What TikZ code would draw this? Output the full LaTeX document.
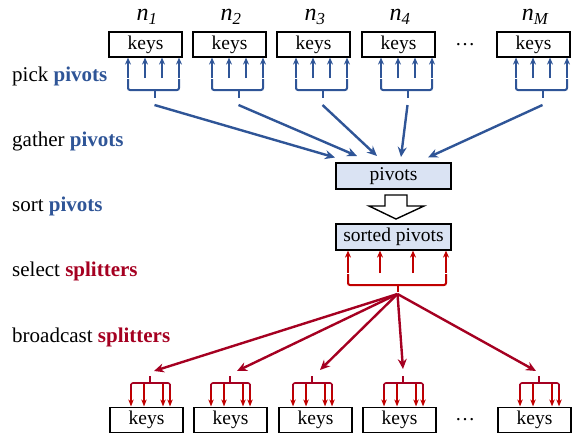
\documentclass[tikz,border=0pt]{standalone}
\usepackage{fontspec}
\setmainfont{Liberation Serif}
\usetikzlibrary{arrows.meta}
\definecolor{pblue}{HTML}{2F5597}
\definecolor{sred}{HTML}{C00000}
\definecolor{dred}{HTML}{A50021}
\definecolor{pfill}{HTML}{DAE3F3}
\begin{document}
\begin{tikzpicture}[x=1pt,y=-1pt,
  keybox/.style={draw, line width=1.1pt, minimum width=73pt, minimum height=25pt, inner sep=0pt, font=\fontsize{19.5}{19.5}\selectfont},
  pbox/.style={keybox, fill=pfill, minimum width=115pt, minimum height=26pt},
  lab/.style={anchor=base west, inner sep=0pt, font=\fontsize{21}{21}\selectfont},
  nlab/.style={inner sep=0pt, font=\fontsize{24}{24}\selectfont\itshape},
  dots/.style={inner sep=0pt, font=\fontsize{20}{20}\selectfont},
  gatherline/.style={pblue, line width=2.4pt, -{Stealth[length=10pt,width=9pt]}},
  bcastline/.style={dred, line width=2.4pt, -{Stealth[length=10pt,width=9pt]}},
  upar/.style={pblue, line width=1.3pt, -{Stealth[length=7pt,width=6pt]}},
  redup/.style={sred, line width=1.3pt, -{Stealth[length=7pt,width=6pt]}},
  reddown/.style={sred, line width=1.3pt, -{Stealth[length=7pt,width=5.5pt]}},
  bbrace/.style={pblue, line width=2pt, rounded corners=2pt},
  rbrace/.style={sred, line width=2pt, rounded corners=2pt},
  rbrace2/.style={dred, line width=1.6pt, rounded corners=2pt},
]
\useasboundingbox (0,0) rectangle (572,434);

% left labels
\node[lab] (l1) at (12,81) {pick \textbf{\color{pblue}pivots}};
\node[lab] (l2) at (12,146) {gather \textbf{\color{pblue}pivots}};
\node[lab] (l3) at (12,211) {sort \textbf{\color{pblue}pivots}};
\node[lab] (l4) at (12,276) {select \textbf{\color{dred}splitters}};
\node[lab] (l5) at (12,342) {broadcast \textbf{\color{dred}splitters}};

% top boxes
\foreach \i/\L/\s in {1/109/1,2/193/2,3/277/3,4/362/4,5/497/M}{
  \node[keybox] (t\i) at (\L+36.5,44.5) {keys};
  \node[nlab] (n\i) at (\L+38,17) {n\textsubscript{\s}};
  \foreach \dx in {19,36,53,70}{
    \draw[upar] (\L+\dx,78) -- (\L+\dx,57.6);
  }
  \draw[bbrace] (\L+19,79) -- (\L+19,90) -- (\L+70,90) -- (\L+70,79);
  \draw[bbrace] (\L+46,90) -- (\L+46,98);
  \coordinate (ut\i) at (\L+45.5,105);
}
\node[dots] (tdots) at (465,45) {\dots};

% pivots
\node[pbox] (piv) at (393.5,176) {pivots};
\node[pbox] (spiv) at (393.5,237) {sorted pivots};

\coordinate (pe1) at (335,157.5);
\coordinate (pe2) at (357,156);
\coordinate (pe3) at (377,156);
\coordinate (pe4) at (401,157);
\coordinate (pe5) at (428,157.5);
\foreach \i in {1,...,5}{\draw[gatherline] (ut\i) -- (pe\i);}

% block arrow
\draw[line width=1.4pt, fill=white, line join=miter]
  (385,195) -- (407,195) -- (407,206) -- (424,206) -- (396,219) -- (369,206) -- (385,206) -- cycle;

% select splitters
\foreach \x in {348,380,413,446}{\draw[redup] (\x,273) -- (\x,250.6);}
\draw[rbrace] (348,274) -- (348,285) -- (446,285) -- (446,274);
\draw[rbrace] (397.5,285) -- (397.5,292);
\coordinate (sc) at (397.5,294);

% bottom boxes
\foreach \i/\L/\c in {1/110/150,2/194/230,3/279/312,4/363/403,5/498/539}{
  \node[keybox] (b\i) at (\L+36.5,420) {keys};
  \foreach \dx in {-19,-6,13,20}{
    \draw[reddown] (\c+\dx,384) -- (\c+\dx,406.4);
  }
  \draw[rbrace2] (\c-19,390) -- (\c-19,383) -- (\c+20,383) -- (\c+20,390);
  \draw[rbrace2] (\c,383) -- (\c,376);
}
\node[dots] (bdots) at (465,420) {\dots};

\coordinate (be1) at (154,371);
\coordinate (be2) at (237,371);
\coordinate (be3) at (320,370);
\coordinate (be4) at (403,369);
\coordinate (be5) at (536,371);
\foreach \i in {1,...,5}{\draw[bcastline] (sc) -- (be\i);}
\end{tikzpicture}
\end{document}
